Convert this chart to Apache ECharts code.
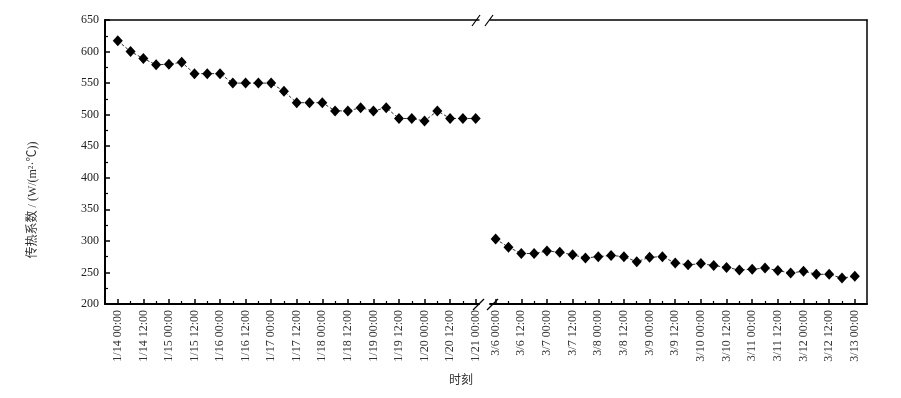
<!DOCTYPE html>
<html>
<head>
<meta charset="utf-8">
<title>传热系数</title>
<script src="https://cdn.jsdelivr.net/npm/echarts@6/dist/echarts.min.js"></script>
<style>
  html, body { margin: 0; padding: 0; background: #fff; }
  #main { width: 901px; height: 398px; }
</style>
</head>
<body>
<div id="main"></div>
<script>
// tick labels, one every 12 h (points are every 6 h)
var leftTicks = ['1/14 00:00', '1/14 12:00', '1/15 00:00', '1/15 12:00', '1/16 00:00', '1/16 12:00',
  '1/17 00:00', '1/17 12:00', '1/18 00:00', '1/18 12:00', '1/19 00:00', '1/19 12:00',
  '1/20 00:00', '1/20 12:00', '1/21 00:00'];
var rightTicks = ['3/6 00:00', '3/6 12:00', '3/7 00:00', '3/7 12:00', '3/8 00:00', '3/8 12:00',
  '3/9 00:00', '3/9 12:00', '3/10 00:00', '3/10 12:00', '3/11 00:00', '3/11 12:00',
  '3/12 00:00', '3/12 12:00', '3/13 00:00'];

// 传热系数, 1/14 00:00 .. 1/21 00:00
var leftValues = [617, 600, 589, 579, 580, 583, 565, 565, 565, 550, 550, 550, 550, 537, 519,
  519, 519, 506, 506, 511, 506, 511, 494, 494, 490, 506, 494, 494, 494];
// 3/6 00:00 .. 3/13 00:00
var rightValues = [303, 290, 280, 280, 284, 282, 278, 273, 275, 277, 275, 267, 274, 275, 265,
  262, 264, 261, 258, 254, 255, 257, 253, 249, 252, 247, 247, 241, 244];

var font = '"Liberation Serif", "Times New Roman", serif';
var cjkFont = '"Liberation Serif", "Noto Sans CJK SC", serif';

var majorIdx = leftTicks.map(function (t, i) { return i * 2; });
var minorIdx = majorIdx.slice(0, -1).map(function (v) { return v + 1; });

function bottomAxis(grid, min, max, ticks) {
  return {
    gridIndex: grid, type: 'value', position: 'bottom', min: min, max: max,
    splitLine: { show: false },
    axisLine: { onZero: false, lineStyle: { color: '#000', width: 2 } },
    axisTick: { inside: true, length: 5, customValues: majorIdx, lineStyle: { color: '#000', width: 1.5 } },
    axisLabel: {
      customValues: majorIdx, rotate: 90, margin: 6,
      fontFamily: font, fontSize: 12, color: '#333',
      formatter: function (v) { return ticks[Math.round(v / 2)]; }
    }
  };
}
function minorAxis(grid, min, max) {
  return {
    gridIndex: grid, type: 'value', position: 'bottom', min: min, max: max,
    splitLine: { show: false },
    axisLine: { show: false, onZero: false },
    axisTick: { inside: true, length: 3, customValues: minorIdx, lineStyle: { color: '#000', width: 1.2 } },
    axisLabel: { show: false }
  };
}
function topAxis(grid, min, max) {
  return {
    gridIndex: grid, type: 'value', position: 'top', min: min, max: max,
    splitLine: { show: false },
    axisLine: { onZero: false, lineStyle: { color: '#000', width: 1.5 } },
    axisTick: { show: false },
    axisLabel: { show: false }
  };
}

var chart = echarts.init(document.getElementById('main'));

var seriesStyle = {
  type: 'line',
  symbol: 'diamond',
  symbolSize: [10, 11],
  itemStyle: { color: '#000' },
  lineStyle: { color: '#333', width: 1, type: [3, 2] },
  z: 3
};

chart.setOption({
  animation: false,
  backgroundColor: '#fff',
  grid: [
    { left: 105, top: 20, width: 374, height: 284 },
    { left: 490, top: 20, width: 377, height: 284 }
  ],
  xAxis: [
    bottomAxis(0, -1, 28.26, leftTicks),
    minorAxis(0, -1, 28.26),
    topAxis(0, -1, 28.26),
    bottomAxis(1, -0.44, 28.95, rightTicks),
    minorAxis(1, -0.44, 28.95),
    topAxis(1, -0.44, 28.95)
  ],
  yAxis: [
    {
      gridIndex: 0, type: 'value', position: 'left', min: 200, max: 650, interval: 50,
      splitLine: { show: false },
      axisLine: { show: true, onZero: false, lineStyle: { color: '#000', width: 2 } },
      axisTick: { inside: true, length: 5, lineStyle: { color: '#000', width: 1.5 } },
      minorTick: { show: true, splitNumber: 2, length: 3, lineStyle: { color: '#000', width: 1.2 } },
      axisLabel: { margin: 6, fontFamily: font, fontSize: 12, color: '#222' }
    },
    {
      gridIndex: 1, type: 'value', position: 'right', min: 200, max: 650,
      splitLine: { show: false },
      axisLine: { show: true, onZero: false, lineStyle: { color: '#000', width: 1.5 } },
      axisTick: { show: false },
      axisLabel: { show: false }
    }
  ],
  series: [
    Object.assign({}, seriesStyle, {
      xAxisIndex: 0, yAxisIndex: 0,
      data: leftValues.map(function (v, i) { return [i, v]; })
    }),
    Object.assign({}, seriesStyle, {
      xAxisIndex: 3, yAxisIndex: 1,
      data: rightValues.map(function (v, i) { return [i, v]; })
    })
  ],
  graphic: [
    // axis break marks
    { type: 'line', shape: { x1: 472, y1: 26, x2: 480, y2: 15 }, style: { stroke: '#000', lineWidth: 1.2 } },
    { type: 'line', shape: { x1: 485, y1: 26, x2: 493, y2: 15 }, style: { stroke: '#000', lineWidth: 1.2 } },
    { type: 'line', shape: { x1: 473, y1: 310, x2: 484, y2: 299 }, style: { stroke: '#000', lineWidth: 1.2 } },
    { type: 'line', shape: { x1: 487, y1: 310, x2: 498, y2: 299 }, style: { stroke: '#000', lineWidth: 1.2 } },
    {
      type: 'text', x: 33, y: 200, rotation: Math.PI / 2,
      style: {
        text: '传热系数 / (W/(m²·℃))', font: '12px ' + cjkFont, fill: '#333',
        align: 'center', verticalAlign: 'middle'
      }
    },
    {
      type: 'text', x: 461, y: 381,
      style: { text: '时刻', font: '12px ' + cjkFont, fill: '#333', align: 'center', verticalAlign: 'middle' }
    }
  ]
});
</script>
</body>
</html>
